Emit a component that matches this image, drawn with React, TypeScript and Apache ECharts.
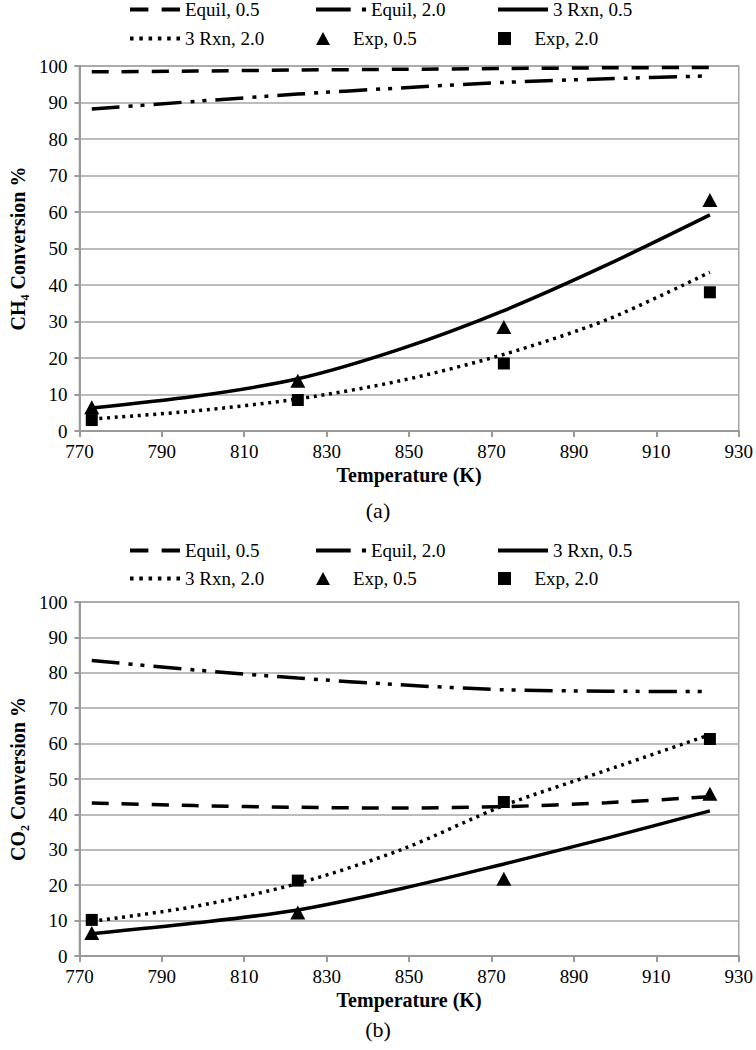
import React, { useEffect, useRef } from 'react';
import * as echarts from 'echarts';

// Model curve temperatures (K) and experiment temperatures (K)
const modelTemps = [773, 798, 823, 848, 873, 898, 923];
const expTemps = [773, 823, 873, 923];
const xTicks = [770, 790, 810, 830, 850, 870, 890, 910, 930];

// (a) CH4 conversion %
const ch4Equil05 = [98.4, 98.6, 98.9, 99.1, 99.3, 99.5, 99.6];
const ch4Equil20 = [88.2, 90.3, 92.3, 94.0, 95.5, 96.5, 97.3];
const ch4Rxn05 = [6.3, 9.5, 14.3, 22.5, 33.0, 45.5, 59.2];
const ch4Rxn20 = [3.3, 5.5, 8.8, 13.8, 21.0, 30.5, 43.5];
const ch4Exp05 = [6.5, 13.8, 28.5, 63.3];
const ch4Exp20 = [3.0, 8.5, 18.5, 38.0];

// (b) CO2 conversion %
const co2Equil05 = [43.2, 42.5, 42.0, 41.8, 42.2, 43.3, 45.0];
const co2Equil20 = [83.5, 80.8, 78.5, 76.6, 75.2, 74.8, 74.7];
const co2Rxn05 = [6.3, 9.3, 13.0, 19.0, 26.0, 33.3, 41.0];
const co2Rxn20 = [9.8, 14.0, 20.5, 30.0, 42.5, 52.5, 62.5];
const co2Exp05 = [6.5, 12.3, 21.8, 45.8];
const co2Exp20 = [10.2, 21.3, 43.5, 61.3];

const names = ['Equil, 0.5', 'Equil, 2.0', '3 Rxn, 0.5', '3 Rxn, 2.0', 'Exp, 0.5', 'Exp, 2.0'];

const FONT = 'Liberation Serif';
const GRID_COLOR = '#a6a6a6';
const AXIS_COLOR = '#9a9a9a';
const LW = 3.5;

// legend icons (line samples drawn as small filled shapes)
const legendIcons = [
  'path://M0,0h18v4h-18z M31,0h18v4h-18z',
  'path://M0,0h34v4h-34z M45,0h4v4h-4z',
  'path://M0,0h50v4h-50z',
  'path://M0,0h3.5v4h-3.5z M9.2,0h3.5v4h-3.5z M18.4,0h3.5v4h-3.5z M27.6,0h3.5v4h-3.5z M36.8,0h3.5v4h-3.5z M46,0h3.5v4h-3.5z',
  'path://M7,0L14,13L0,13z',
  'path://M0,0h12v12h-12z',
];

const pairs = (xs: number[], ys: number[]) => xs.map((x, i) => [x, ys[i]]);

function buildSeries(gi: number, eq05: number[], eq20: number[], r05: number[], r20: number[], e05: number[], e20: number[]) {
  const lineBase = (name: string, data: number[], type: any) => ({
    name,
    type: 'line',
    xAxisIndex: gi,
    yAxisIndex: gi,
    data: pairs(modelTemps, data),
    smooth: 0.3,
    symbol: 'none',
    itemStyle: { color: '#000' },
    lineStyle: { color: '#000', width: LW, type, cap: 'butt' },
    z: 3,
  });
  return [
    lineBase(names[0], eq05, [17, 13]),
    lineBase(names[1], eq20, [28, 9, 4, 8, 4, 9]),
    lineBase(names[2], r05, 'solid'),
    lineBase(names[3], r20, [3, 4.7]),
    {
      name: names[4],
      type: 'scatter',
      xAxisIndex: gi,
      yAxisIndex: gi,
      data: pairs(expTemps, e05),
      symbol: 'triangle',
      symbolSize: [15, 14],
      itemStyle: { color: '#000', opacity: 1 },
      z: 5,
    },
    {
      name: names[5],
      type: 'scatter',
      xAxisIndex: gi,
      yAxisIndex: gi,
      data: pairs(expTemps, e20),
      symbol: 'rect',
      symbolSize: 12,
      itemStyle: { color: '#000', opacity: 1 },
      z: 6,
    },
  ];
}

function xAxisFor(gi: number) {
  return {
    type: 'value',
    gridIndex: gi,
    min: xTicks[0],
    max: xTicks[xTicks.length - 1],
    interval: 20,
    name: 'Temperature (K)',
    nameLocation: 'middle',
    nameGap: 34,
    nameTextStyle: { fontFamily: FONT, fontSize: 20, fontWeight: 'bold', color: '#000' },
    axisLine: { show: true, onZero: false, lineStyle: { color: AXIS_COLOR, width: 2 } },
    axisTick: { show: true, length: 6, lineStyle: { color: AXIS_COLOR, width: 2 } },
    axisLabel: { fontFamily: FONT, fontSize: 19, color: '#000', margin: 11 },
    splitLine: { show: false },
  };
}

function yAxisFor(gi: number, label: string) {
  return {
    type: 'value',
    gridIndex: gi,
    min: 0,
    max: 100,
    interval: 10,
    name: label,
    nameLocation: 'middle',
    nameGap: 43,
    nameTextStyle: { fontFamily: FONT, fontSize: 20, fontWeight: 'bold', color: '#000' },
    axisLine: { show: true, lineStyle: { color: AXIS_COLOR, width: 2 } },
    axisTick: { show: true, length: 5, lineStyle: { color: AXIS_COLOR, width: 2 } },
    axisLabel: { fontFamily: FONT, fontSize: 19, color: '#000', margin: 12 },
    splitLine: { show: true, lineStyle: { color: GRID_COLOR, width: 1.5 } },
  };
}

const colLefts = [130, 316, 498];
const rowTops = [0, 29, 541, 569];

function buildLegends() {
  const out: any[] = [];
  rowTops.forEach((top, r) => {
    const rowInChart = r % 2;
    colLefts.forEach((left, c) => {
      const idx = rowInChart * 3 + c;
      out.push({
        orient: 'horizontal',
        left,
        top,
        padding: 0,
        itemWidth: 50,
        itemHeight: 13,
        itemGap: 0,
        selectedMode: false,
        symbolKeepAspect: true,
        textStyle: { fontFamily: FONT, fontSize: 19, color: '#000' },
        data: [{ name: names[idx], icon: legendIcons[idx], itemStyle: { color: '#000', opacity: 1 } }],
      });
    });
  });
  return out;
}

export default function App() {
  const ref = useRef<HTMLDivElement>(null);

  useEffect(() => {
    if (!ref.current) return;
    const chart = echarts.init(ref.current, undefined, { renderer: 'svg' });
    chart.setOption({
      animation: false,
      backgroundColor: '#fff',
      legend: buildLegends(),
      grid: [
        { left: 63, right: 16, top: 66, height: 365, show: true, borderColor: GRID_COLOR, borderWidth: 1.5, backgroundColor: 'transparent' },
        { left: 63, right: 16, top: 602, height: 354, show: true, borderColor: GRID_COLOR, borderWidth: 1.5, backgroundColor: 'transparent' },
      ],
      xAxis: [xAxisFor(0), xAxisFor(1)],
      yAxis: [yAxisFor(0, 'CH\u2084 Conversion %'), yAxisFor(1, 'CO\u2082 Conversion %')],
      series: [
        ...buildSeries(0, ch4Equil05, ch4Equil20, ch4Rxn05, ch4Rxn20, ch4Exp05, ch4Exp20),
        ...buildSeries(1, co2Equil05, co2Equil20, co2Rxn05, co2Rxn20, co2Exp05, co2Exp20),
      ],
      graphic: [
        { type: 'text', left: 'center', top: 499, style: { text: '(a)', font: `22px ${FONT}`, fill: '#000' } },
        { type: 'text', left: 'center', top: 1018, style: { text: '(b)', font: `22px ${FONT}`, fill: '#000' } },
      ],
    });
    return () => chart.dispose();
  }, []);

  return (
    <div
      ref={ref}
      style={{ position: 'fixed', left: 0, top: 0, width: 756, height: 1050, background: '#fff' }}
    />
  );
}
